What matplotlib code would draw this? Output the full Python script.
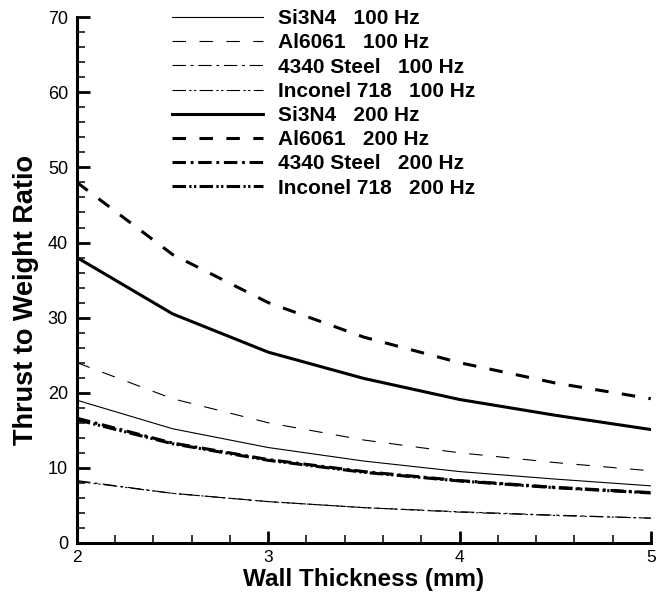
import matplotlib.pyplot as plt
import numpy as np
from matplotlib.ticker import MultipleLocator

plt.rcParams['font.family'] = ['Liberation Sans', 'DejaVu Sans']
plt.rcParams['lines.scale_dashes'] = False

# wall thickness (mm)
thickness = [2.0, 2.5, 3.0, 3.5, 4.0, 4.5, 5.0]

# thrust to weight ratio per material / frequency
si3n4_100 = [19.0, 15.2, 12.7, 10.9, 9.5, 8.5, 7.6]
al6061_100 = [24.0, 19.2, 16.0, 13.7, 12.0, 10.7, 9.6]
steel_100 = [8.3, 6.6, 5.5, 4.7, 4.15, 3.7, 3.3]
inconel_100 = [8.2, 6.6, 5.5, 4.7, 4.1, 3.65, 3.3]
si3n4_200 = [38.0, 30.5, 25.4, 21.9, 19.1, 17.0, 15.1]
al6061_200 = [48.0, 38.4, 32.0, 27.4, 24.0, 21.3, 19.2]
steel_200 = [16.6, 13.3, 11.1, 9.5, 8.3, 7.4, 6.7]
inconel_200 = [16.4, 13.2, 11.0, 9.4, 8.25, 7.35, 6.65]

labels = ["Si3N4   100 Hz", "Al6061   100 Hz", "4340 Steel   100 Hz", "Inconel 718   100 Hz",
          "Si3N4   200 Hz", "Al6061   200 Hz", "4340 Steel   200 Hz", "Inconel 718   200 Hz"]

series = [si3n4_100, al6061_100, steel_100, inconel_100,
          si3n4_200, al6061_200, steel_200, inconel_200]

# dash patterns in points (unscaled)
solid = '-'
dash = (0, (9.7, 9.7))
dashdot = (0, (9.7, 3.4, 2.0, 3.4))
dashdotdot = (0, (9.7, 2.4, 1.6, 1.8, 1.6, 2.4))

thin = 0.8
thick = 2.2
styles = [
    (thin, solid), (thin, dash), (thin, dashdot), (thin, dashdotdot),
    (thick, solid), (thick, dash), (thick, dashdot), (thick, dashdotdot),
]

fig = plt.figure(figsize=(6.58, 5.94), dpi=100)
ax = fig.add_axes([0.117, 0.086, 0.872, 0.885])

for vals, lab, (lw, ls) in zip(series, labels, styles):
    ax.plot(thickness, vals, color='k', lw=lw, linestyle=ls, label=lab)

ax.set_xlim(2, 5)
ax.set_ylim(0, 70)
ax.xaxis.set_major_locator(MultipleLocator(1))
ax.xaxis.set_minor_locator(MultipleLocator(0.2))
ax.yaxis.set_major_locator(MultipleLocator(10))
ax.yaxis.set_minor_locator(MultipleLocator(2))

for s in ['top', 'right']:
    ax.spines[s].set_visible(False)
for s in ['left', 'bottom']:
    ax.spines[s].set_linewidth(2.2)

ax.tick_params(which='major', direction='in', length=9, width=2, labelsize=13)
ax.tick_params(axis='y', which='major', pad=6.5)
ax.tick_params(axis='x', which='major', pad=5, labelsize=12.5)
ax.tick_params(which='minor', direction='in', length=6, width=1.1)

ax.set_xlabel("Wall Thickness (mm)", fontsize=17.5, fontweight='bold')
ax.set_ylabel("Thrust to Weight Ratio", fontsize=19.5, fontweight='bold')
ax.xaxis.set_label_coords(0.5, -0.047)
ax.yaxis.set_label_coords(-0.066, 0.462)

ax.legend(loc='upper left', bbox_to_anchor=(0.147, 1.035), frameon=False,
          prop={'weight': 'bold', 'size': 15}, handlelength=4.4, handletextpad=0.72,
          labelspacing=0.25, borderpad=0)

fig.savefig("out.png", dpi=100)
